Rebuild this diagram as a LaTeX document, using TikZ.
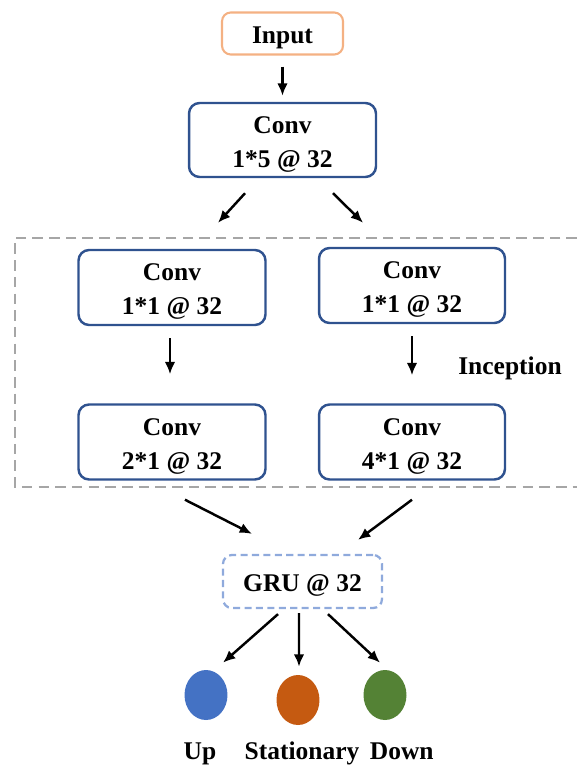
\documentclass[tikz,border=0pt]{standalone}
\usepackage{fontspec}
\setmainfont{Liberation Serif}
\usetikzlibrary{arrows.meta, positioning, shapes.geometric}
\definecolor{convblue}{RGB}{47,82,143}
\definecolor{inorange}{RGB}{244,177,131}
\definecolor{grublue}{RGB}{143,170,220}
\definecolor{upblue}{RGB}{68,114,196}
\definecolor{statorange}{RGB}{197,90,17}
\definecolor{downgreen}{RGB}{84,130,53}
\definecolor{incgray}{RGB}{166,166,166}
\newcommand{\convtxt}[1]{\rule{0pt}{1em}Conv\\#1 @ 32}

\begin{document}
\begin{tikzpicture}[
    x=0.02cm, y=-0.02cm,
    lbl/.style={font=\fontsize{14.5}{19.5}\selectfont\bfseries, align=center,
                execute at begin node={\rule{0pt}{1em}}},
    convbox/.style={
        lbl,
        draw=convblue,
        line width=1.4pt,
        rounded corners=6pt,
        minimum width=3.74cm,
        minimum height=1.5cm,
        inner sep=0pt
    },
    inbox/.style={lbl, draw=inorange, line width=1.2pt, rounded corners=5pt,
                  minimum width=2.42cm, minimum height=0.84cm, inner sep=0pt},
    grubox/.style={lbl, draw=grublue, line width=1.3pt, rounded corners=5pt,
                   dash pattern=on 4pt off 2.5pt,
                   minimum width=3.18cm, minimum height=1.06cm, inner sep=0pt},
    outdot/.style={ellipse, minimum width=0.86cm, minimum height=1.0cm, inner sep=0pt},
    arrow/.style={-{Latex[length=7pt, width=6pt]}, line width=1.4pt}
]
\useasboundingbox (0,0) rectangle (577,771);

% inception block
\draw[incgray, line width=1.6pt, dash pattern=on 6pt off 3.5pt]
    (577,238) -- (15,238) -- (15,487) -- (577,487);
\node[lbl] (incep) at (510,364) {Inception};

\node[inbox]   (input) at (282.5,33.5) {Input};
\node[convbox, minimum width=3.74cm, minimum height=1.48cm] (conv1) at (282.5,140) {\convtxt{1*5}};
\node[convbox] (c11l) at (172,287.5) {\convtxt{1*1}};
\node[convbox, minimum width=3.72cm] (c11r) at (412,285.5) {\convtxt{1*1}};
\node[convbox] (c21l) at (172,442) {\convtxt{2*1}};
\node[convbox, minimum width=3.72cm] (c41r) at (412,442) {\convtxt{4*1}};
\node[grubox]  (gru)  at (302.5,581.5) {GRU @ 32};

\foreach \name/\col/\x/\y/\lx/\txt in {
    up/upblue/206/695/200/{Up},
    stat/statorange/298/700/302/{Stationary},
    down/downgreen/385/695/405/{Down}
}{
    \node[outdot, fill=\col] (\name) at (\x,\y) {};
    \node[lbl, anchor=base] (\name lbl) at (\lx,759) {\txt};
}

\draw[arrow] ([yshift=-0.22cm]input.south) -- ([yshift=0.12cm]conv1.north);
\draw[arrow] ([xshift=-0.75cm, yshift=-0.3cm]conv1.south) -- ([xshift=0.92cm, yshift=0.52cm]c11l.north);
\draw[arrow] ([xshift=1.01cm, yshift=-0.3cm]conv1.south) -- ([xshift=-0.98cm, yshift=0.48cm]c11r.north);
\draw[arrow] ([xshift=-0.04cm, yshift=-0.24cm]c11l.south) -- ([xshift=-0.04cm, yshift=0.58cm]c21l.north);
\draw[arrow] ([yshift=-0.24cm]c11r.south) -- ([yshift=0.56cm]c41r.north);
\draw[arrow] ([xshift=0.26cm, yshift=-0.38cm]c21l.south) -- ([xshift=-1.01cm, yshift=0.4cm]gru.north);
\draw[arrow] ([yshift=-0.38cm]c41r.south) -- ([xshift=1.11cm, yshift=0.28cm]gru.north);
\draw[arrow] ([xshift=-0.49cm, yshift=-0.1cm]gru.south) -- ([xshift=0.34cm, yshift=0.14cm]up.north);
\draw[arrow] ([xshift=-0.07cm, yshift=-0.08cm]gru.south) -- ([xshift=0.02cm, yshift=0.16cm]stat.north);
\draw[arrow] ([xshift=0.51cm, yshift=-0.1cm]gru.south) -- ([xshift=-0.1cm, yshift=0.14cm]down.north);
\end{tikzpicture}
\end{document}
